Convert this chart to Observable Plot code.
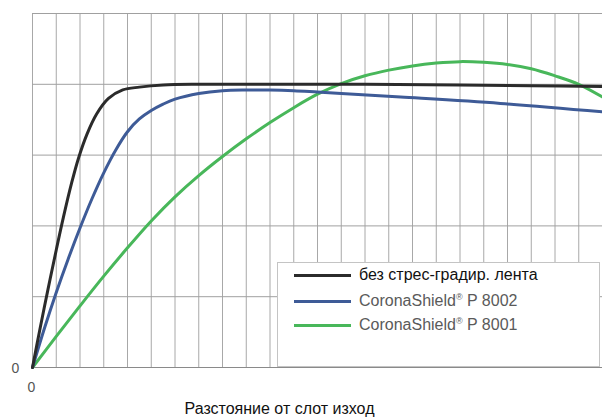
<!DOCTYPE html>
<html>
<head>
<meta charset="utf-8">
<script src="https://cdn.jsdelivr.net/npm/d3@7"></script>
<script src="https://cdn.jsdelivr.net/npm/@observablehq/plot@0.6"></script>
<style>
  html, body { margin: 0; padding: 0; background: #fff; }
  #wrap { position: relative; width: 602px; height: 417px; overflow: hidden; font-family: Arial, "Liberation Sans", sans-serif; }
  #legend { position: absolute; left: 277px; top: 262px; width: 323px; height: 105px; background: #fff; border: 1px solid #c4c4c4; box-sizing: border-box; }
  .item { position: absolute; left: 16px; height: 20px; display: flex; align-items: center; }
  .swatch { width: 57px; height: 3px; margin-right: 8px; }
  .lbl { font-size: 16px; white-space: nowrap; }
  .lbl sup { font-size: 9px; vertical-align: 6px; }
</style>
</head>
<body>
<div id="wrap"></div>
<script>
// Series names and colours
const seriesNames = ["без стрес-градир. лента", "CoronaShield® P 8002", "CoronaShield® P 8001"];
const seriesColors = ["#2b2b2b", "#3e5b97", "#48b75a"];

// Black: no stress-grading tape
const blackX = [0, 0.3, 0.65, 1.0, 1.3, 1.65, 1.95, 2.3, 2.7, 3.2, 3.8, 4.5, 5.5, 7, 10, 14, 18, 21, 24];
const blackY = [0, 0.52, 1.1, 1.66, 2.12, 2.61, 2.97, 3.3, 3.58, 3.8, 3.92, 3.96, 3.99, 4.0, 4.0, 4.0, 3.99, 3.98, 3.97];

// Blue: CoronaShield P 8002
const blueX = [0, 0.5, 1.0, 1.5, 2.0, 2.5, 3.0, 3.5, 4.0, 4.5, 5.0, 5.5, 6, 7, 8, 9, 10, 11, 12, 13, 15.5, 19.7, 24];
const blueY = [0, 0.55, 1.06, 1.53, 1.97, 2.38, 2.75, 3.07, 3.33, 3.51, 3.63, 3.72, 3.79, 3.87, 3.91, 3.92, 3.92, 3.91, 3.89, 3.87, 3.82, 3.73, 3.61];

// Green: CoronaShield P 8001
const greenX = [0, 1, 2, 3, 4, 5, 6, 7, 8, 9, 10, 11, 12, 13, 14, 15, 16, 17, 18, 19, 20, 21, 22, 23, 24];
const greenY = [0, 0.44, 0.87, 1.29, 1.69, 2.07, 2.41, 2.71, 2.98, 3.23, 3.46, 3.67, 3.86, 4.01, 4.12, 4.2, 4.26, 4.3, 4.32, 4.31, 4.28, 4.22, 4.12, 4.0, 3.82];

// Grid ticks
const xGrid = [0,1,2,3,4,5,6,7,8,9,10,11,12,13,14,15,16,17,18,19,20,21,22,23,24];
const yGrid = [0,1,2,3,4,5];
const xTickLabels = [0];
const yTickLabels = [0];
const xTitle = "Разстояние от слот изход";

const toRows = (xs, ys, s) => xs.map((x, i) => ({x, y: ys[i], s}));
const data = [
  ...toRows(greenX, greenY, seriesNames[2]),
  ...toRows(blueX, blueY, seriesNames[1]),
  ...toRows(blackX, blackY, seriesNames[0])
];

const chart = Plot.plot({
  width: 602,
  height: 417,
  marginLeft: 32,
  marginRight: 0,
  marginTop: 13,
  marginBottom: 50,
  style: {fontFamily: "Arial, 'Liberation Sans', sans-serif", background: "#fff"},
  x: {domain: [0, 24], axis: null},
  y: {domain: [0, 5], axis: null},
  color: {domain: seriesNames, range: seriesColors},
  marks: [
    Plot.ruleX(xGrid, {x: d => d, stroke: "#a8a8a8", strokeWidth: 1}),
    Plot.ruleY(yGrid, {y: d => d, stroke: "#a0a0a0", strokeWidth: 1}),
    Plot.ruleY([0], {stroke: "#8a8a8a", strokeWidth: 1.2}),
    Plot.line(data, {x: "x", y: "y", z: "s", stroke: "s", strokeWidth: 3, curve: "catmull-rom"}),
    Plot.text(yTickLabels, {x: 0, y: d => d, text: d => String(d), dx: -17, dy: 1, fontSize: 14, fill: "#555", textAnchor: "middle"}),
    Plot.text(xTickLabels, {x: d => d, y: 0, text: d => String(d), dx: -1, dy: 20, fontSize: 14, fill: "#555", textAnchor: "middle"}),
    Plot.text([xTitle], {frameAnchor: "bottom", text: d => d, dx: -38, dy: 46, fontSize: 16, fill: "#111", textAnchor: "middle", lineAnchor: "bottom"})
  ]
});

const wrap = document.getElementById("wrap");
wrap.appendChild(chart);

// Legend overlay
const legend = document.createElement("div");
legend.id = "legend";
const rowsTop = [2, 28, 52];
seriesNames.forEach((name, i) => {
  const item = document.createElement("div");
  item.className = "item";
  item.style.top = rowsTop[i] + "px";
  const sw = document.createElement("div");
  sw.className = "swatch";
  sw.style.background = seriesColors[i];
  const lbl = document.createElement("span");
  lbl.className = "lbl";
  lbl.style.color = i === 0 ? "#111" : "#5a5a5a";
  if (name.includes("®")) {
    const parts = name.split("®");
    lbl.append(parts[0]);
    const sup = document.createElement("sup");
    sup.textContent = "®";
    lbl.append(sup);
    lbl.append(parts[1]);
  } else {
    lbl.textContent = name;
  }
  item.append(sw, lbl);
  legend.appendChild(item);
});
wrap.appendChild(legend);
</script>
</body>
</html>
